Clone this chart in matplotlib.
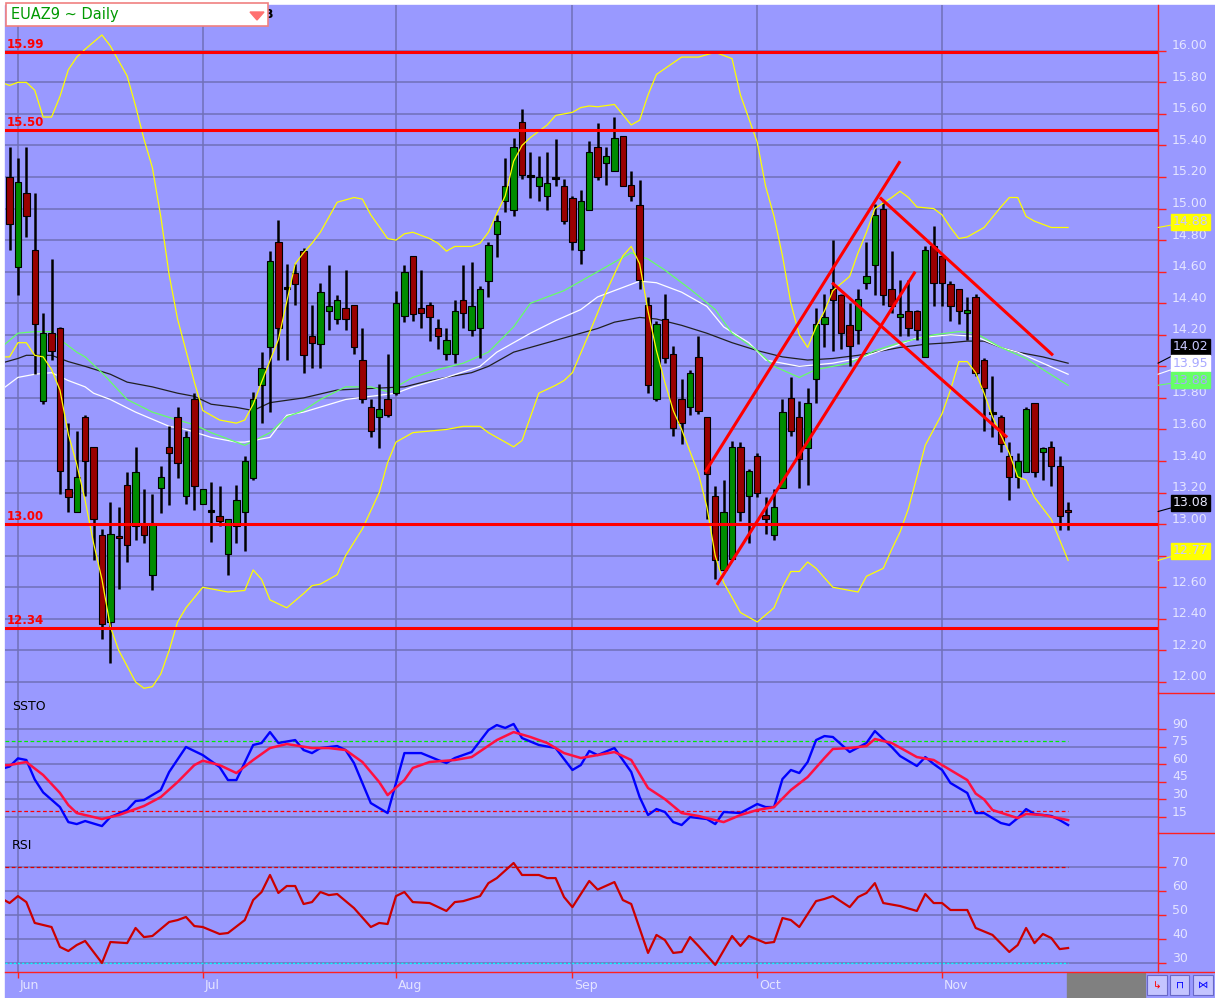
import numpy as np
import matplotlib
matplotlib.use('Agg')
import matplotlib.pyplot as plt
from matplotlib.patches import Rectangle, Polygon
from matplotlib.lines import Line2D
from matplotlib.transforms import blended_transform_factory as blend

W, H = 1215, 998
BG = '#9999ff'
GRID = '#7070b8'
LBL = '#e4e4ff'
AXRED = '#ff2020'

# daily candles, bar 0 = last trading day of May
opens = [15.20, 14.63, 15.10, 14.74, 13.78, 14.21, 14.24, 13.22, 13.08, 13.68,
         13.49, 12.93, 12.38, 12.92, 13.25, 12.99, 13.00, 12.68, 13.23, 13.49,
         13.68, 13.18, 13.79, 13.13, 13.08, 13.05, 12.81, 12.99, 13.08, 13.29,
         13.88, 14.12, 14.79, 14.49, 14.59, 14.73, 14.19, 14.14, 14.35, 14.30,
         14.37, 14.39, 14.04, 13.74, 13.68, 13.79, 13.83, 14.32, 14.70, 14.37,
         14.39, 14.24, 14.08, 14.08, 14.42, 14.23, 14.24, 14.54, 14.84, 15.05,
         14.99, 15.55, 15.20, 15.14, 15.08, 15.19, 15.14, 15.07, 14.74, 14.99,
         15.39, 15.29, 15.24, 15.46, 15.15, 15.02, 14.39, 13.79, 14.30, 14.08,
         13.79, 13.74, 14.06, 13.68, 13.18, 12.71, 12.78, 13.49, 13.18, 13.43,
         13.06, 12.93, 13.23, 13.80, 13.68, 13.48, 13.92, 14.27, 14.49, 14.45,
         14.26, 14.23, 14.53, 14.64, 15.00, 14.49, 14.31, 14.35, 14.35, 14.06,
         14.76, 14.70, 14.52, 14.49, 14.34, 14.44, 14.04, 13.70, 13.68, 13.43,
         13.30, 13.33, 13.77, 13.46, 13.49, 13.37, 13.09]
highs = [15.39, 15.32, 15.39, 15.10, 14.34, 14.68, 14.25, 13.64, 13.59, 13.69,
         13.49, 12.97, 13.14, 13.11, 13.33, 13.49, 13.22, 13.19, 13.37, 13.62,
         13.74, 13.59, 13.83, 13.22, 13.27, 13.24, 13.03, 13.25, 13.43, 13.84,
         14.09, 14.73, 14.93, 14.65, 14.65, 14.75, 14.39, 14.53, 14.64, 14.45,
         14.61, 14.39, 14.24, 13.79, 13.89, 14.08, 14.48, 14.64, 14.70, 14.61,
         14.41, 14.30, 14.24, 14.42, 14.64, 14.66, 14.51, 14.79, 14.96, 15.32,
         15.45, 15.63, 15.36, 15.33, 15.36, 15.44, 15.19, 15.08, 15.12, 15.43,
         15.54, 15.39, 15.58, 15.46, 15.24, 15.18, 14.44, 14.29, 14.46, 14.13,
         13.92, 13.98, 14.19, 13.68, 13.24, 13.28, 13.53, 13.52, 13.35, 13.45,
         13.17, 13.22, 13.79, 13.93, 13.78, 13.86, 14.37, 14.46, 14.80, 14.46,
         14.40, 14.49, 14.79, 15.03, 15.04, 14.73, 14.55, 14.55, 14.36, 14.76,
         14.89, 14.70, 14.54, 14.49, 14.44, 14.46, 14.05, 13.94, 13.69, 13.52,
         13.45, 13.74, 13.77, 13.49, 13.53, 13.43, 13.14]
lows = [14.74, 14.45, 14.82, 13.95, 13.76, 14.04, 13.19, 13.08, 13.08, 13.18,
        12.77, 12.27, 12.12, 12.59, 12.76, 12.90, 12.88, 12.58, 13.07, 13.12,
        13.29, 13.13, 13.09, 13.13, 12.89, 12.99, 12.68, 12.88, 12.83, 13.28,
        13.64, 13.71, 14.04, 14.04, 14.39, 13.96, 13.99, 13.99, 14.23, 14.27,
        14.23, 14.08, 13.77, 13.55, 13.48, 13.68, 13.82, 14.28, 14.29, 14.24,
        14.16, 14.11, 14.04, 14.02, 14.24, 14.19, 14.05, 14.44, 14.69, 14.98,
        14.95, 15.19, 15.07, 15.05, 14.99, 15.14, 14.90, 14.74, 14.65, 14.99,
        15.18, 15.15, 15.24, 15.14, 15.05, 14.49, 13.83, 13.78, 14.02, 13.56,
        13.51, 13.69, 13.70, 13.03, 12.65, 12.71, 12.78, 13.02, 12.88, 13.17,
        12.94, 12.90, 13.23, 13.56, 13.23, 13.25, 13.77, 14.12, 14.10, 14.11,
        14.00, 14.14, 14.49, 14.45, 14.39, 14.34, 14.19, 14.19, 14.17, 14.06,
        14.38, 14.38, 14.29, 14.27, 14.17, 13.94, 13.59, 13.55, 13.46, 13.15,
        13.23, 13.33, 13.30, 13.28, 13.24, 12.96, 12.96]
closes = [14.90, 15.17, 14.95, 14.27, 14.21, 14.10, 13.34, 13.17, 13.30, 13.40,
          13.03, 12.37, 12.94, 12.91, 12.87, 13.33, 12.93, 13.00, 13.30, 13.45,
          13.39, 13.55, 13.24, 13.22, 13.08, 13.02, 13.03, 13.15, 13.40, 13.79,
          13.99, 14.67, 14.24, 14.49, 14.52, 14.07, 14.15, 14.47, 14.38, 14.42,
          14.30, 14.12, 13.79, 13.59, 13.73, 13.69, 14.40, 14.60, 14.33, 14.34,
          14.31, 14.19, 14.17, 14.35, 14.34, 14.38, 14.49, 14.77, 14.92, 15.14,
          15.39, 15.21, 15.20, 15.20, 15.16, 15.19, 14.92, 14.79, 15.05, 15.36,
          15.20, 15.33, 15.45, 15.14, 15.08, 14.55, 13.88, 14.27, 14.05, 13.61,
          13.64, 13.96, 13.72, 13.32, 12.77, 13.08, 13.49, 13.08, 13.34, 13.20,
          13.03, 13.11, 13.71, 13.59, 13.41, 13.77, 14.27, 14.31, 14.42, 14.21,
          14.13, 14.43, 14.57, 14.96, 14.45, 14.38, 14.33, 14.24, 14.23, 14.74,
          14.53, 14.53, 14.38, 14.35, 14.36, 13.96, 13.86, 13.70, 13.51, 13.30,
          13.40, 13.73, 13.33, 13.48, 13.37, 13.05, 13.08]

months = ['Jun', 'Jul', 'Aug', 'Sep', 'Oct', 'Nov']
month_bars = [1, 23, 46, 67, 89, 111]

levels = [15.99, 15.50, 13.00, 12.34]

# hand drawn trend lines: (bar, price) pairs
trend_lines = [((82.8, 13.33), (106.0, 15.30)),
               ((84.2, 12.615), (107.8, 14.60)),
               ((103.6, 15.07), (124.2, 14.07)),
               ((97.9, 14.53), (118.75, 13.55))]

# bollinger bands
bb_up_x = [-1, 0, 1, 2, 3, 4, 5, 6, 7, 8, 9, 11, 12, 14, 15, 16, 17, 18, 19, 20,
           22, 23, 25, 27, 28, 29, 30, 32, 34, 35, 36, 37, 39, 41, 42, 43, 45, 46, 47, 48,
           50, 51, 52, 53, 55, 56, 57, 58, 59, 60, 61, 62, 64, 65, 67, 68, 69, 70, 72, 74,
           75, 76, 77, 80, 82, 84, 86, 87, 89, 90, 91, 92, 93, 94, 95, 96, 97, 98, 100, 101,
           102, 103, 105, 106, 107, 108, 110, 111, 112, 113, 114, 116, 118, 119, 120, 121,
           122, 124, 126]
bb_up = [15.80, 15.78, 15.80, 15.80, 15.75, 15.58, 15.58, 15.71, 15.88, 15.96, 16.01,
         16.10, 16.03, 15.84, 15.65, 15.44, 15.26, 14.95, 14.58, 14.30, 13.90, 13.72,
         13.66, 13.64, 13.66, 13.76, 13.90, 14.17, 14.65, 14.72, 14.78, 14.85, 15.04,
         15.07, 15.06, 14.96, 14.81, 14.80, 14.84, 14.85, 14.81, 14.78, 14.73, 14.76,
         14.76, 14.78, 14.85, 14.97, 15.08, 15.30, 15.40, 15.45, 15.53, 15.59, 15.61,
         15.64, 15.65, 15.645, 15.66, 15.53, 15.56, 15.72, 15.85, 15.96, 15.96, 15.99,
         15.95, 15.72, 15.42, 15.14, 14.95, 14.70, 14.40, 14.20, 14.12, 14.25, 14.35,
         14.48, 14.57, 14.72, 14.85, 15.00, 15.07, 15.11, 15.07, 15.01, 15.00, 14.96,
         14.88, 14.81, 14.82, 14.88, 15.01, 15.07, 15.07, 14.95, 14.92, 14.88, 14.88]
bb_lo_x = [-1, 0, 1, 2, 3, 4, 5, 6, 7, 8, 9, 10, 11, 12, 13, 15, 16, 17, 18, 19,
           20, 21, 23, 26, 28, 29, 30, 31, 33, 35, 36, 37, 39, 40, 42, 44, 45, 46, 48, 52,
           54, 56, 57, 60, 61, 63, 65, 66, 67, 69, 70, 71, 73, 74, 75, 76, 77, 78, 79, 80,
           82, 83, 84, 85, 87, 89, 91, 92, 93, 94, 95, 96, 98, 101, 102, 104, 105, 106, 107,
           109, 111, 112, 113, 114, 115, 116, 117, 119, 120, 121, 122, 124, 125, 126]
bb_lo = [14.06, 14.06, 14.15, 14.15, 14.07, 14.06, 13.98, 13.85, 13.57, 13.38, 13.15,
         12.88, 12.65, 12.35, 12.20, 12.00, 11.96, 11.97, 12.05, 12.20, 12.38, 12.47,
         12.60, 12.57, 12.58, 12.71, 12.65, 12.52, 12.47, 12.56, 12.61, 12.62, 12.68,
         12.80, 12.97, 13.20, 13.39, 13.52, 13.58, 13.60, 13.62, 13.62, 13.58, 13.49,
         13.53, 13.83, 13.88, 13.91, 13.96, 14.21, 14.34, 14.47, 14.70, 14.76, 14.65,
         14.35, 14.10, 13.90, 13.72, 13.60, 13.32, 13.11, 12.80, 12.63, 12.44, 12.38,
         12.47, 12.60, 12.70, 12.70, 12.76, 12.72, 12.60, 12.57, 12.67, 12.72, 12.84,
         12.95, 13.10, 13.50, 13.70, 13.85, 14.03, 14.03, 13.96, 13.83, 13.68, 13.45,
         13.30, 13.28, 13.17, 13.03, 12.90, 12.77]

# moving averages
ma_blk_x = [-1, 1, 2, 5, 7, 9, 12, 14, 17, 20, 22, 24, 27, 29, 31, 35, 39, 43, 47, 50,
            55, 57, 60, 64, 68, 70, 72, 75, 77, 80, 83, 86, 89, 92, 95, 98, 101, 104, 106,
            109, 112, 114, 116, 118, 120, 123, 126]
ma_blk = [14.02, 14.05, 14.07, 14.07, 14.03, 14.00, 13.95, 13.90, 13.87, 13.83, 13.81,
          13.76, 13.74, 13.72, 13.77, 13.80, 13.85, 13.86, 13.87, 13.91, 13.96, 14.00,
          14.09, 14.15, 14.21, 14.24, 14.28, 14.31, 14.30, 14.26, 14.21, 14.15, 14.10,
          14.06, 14.04, 14.05, 14.07, 14.10, 14.12, 14.14, 14.15, 14.16, 14.16, 14.12,
          14.09, 14.06, 14.02]
ma_grn_x = [-1, 1, 3, 5, 6, 8, 9, 11, 14, 17, 20, 22, 24, 27, 28, 31, 33, 35, 37, 40,
            43, 45, 48, 51, 54, 57, 60, 62, 66, 68, 70, 72, 74, 76, 78, 81, 84, 86, 89, 91,
            94, 96, 100, 103, 106, 110, 113, 115, 118, 121, 123, 126]
ma_grn = [14.12, 14.21, 14.22, 14.22, 14.17, 14.09, 14.06, 13.96, 13.79, 13.71, 13.66,
          13.63, 13.58, 13.52, 13.50, 13.58, 13.68, 13.72, 13.79, 13.87, 13.87, 13.84,
          13.93, 13.98, 14.02, 14.09, 14.25, 14.40, 14.48, 14.54, 14.60, 14.66, 14.72,
          14.68, 14.61, 14.49, 14.36, 14.21, 14.10, 14.00, 13.93, 13.98, 14.02, 14.10,
          14.15, 14.20, 14.22, 14.21, 14.12, 14.05, 13.98, 13.88]
ma_wht_x = [-1, 1, 3, 5, 7, 9, 10, 12, 15, 19, 21, 24, 27, 28, 31, 33, 35, 40, 43, 46,
            48, 52, 56, 58, 62, 65, 68, 70, 73, 75, 77, 80, 83, 85, 88, 90, 94, 98, 101,
            106, 108, 112, 115, 118, 120, 123, 126]
ma_wht = [13.85, 13.93, 13.95, 13.96, 13.91, 13.87, 13.83, 13.79, 13.71, 13.62, 13.60,
          13.55, 13.52, 13.52, 13.55, 13.69, 13.71, 13.79, 13.81, 13.83, 13.87, 13.93,
          14.00, 14.09, 14.21, 14.29, 14.36, 14.44, 14.50, 14.54, 14.53, 14.47, 14.38,
          14.25, 14.15, 14.04, 14.00, 14.02, 14.05, 14.14, 14.18, 14.20, 14.19, 14.12,
          14.09, 14.02, 13.95]

# slow stochastic
k_x = [-1, 0, 1, 2, 3, 4, 6, 7, 8, 9, 11, 12, 14, 15, 16, 18, 19, 21, 23, 25,
       26, 27, 29, 30, 31, 32, 34, 35, 36, 37, 39, 40, 41, 43, 45, 47, 49, 51, 52, 53,
       55, 57, 58, 59, 60, 61, 63, 65, 67, 68, 69, 70, 72, 74, 75, 76, 77, 78, 79, 80,
       81, 83, 84, 85, 87, 89, 90, 91, 92, 93, 94, 95, 96, 97, 98, 100, 102, 103, 105, 106,
       108, 109, 110, 111, 112, 114, 115, 116, 118, 119, 120, 121, 122, 124, 125, 126]
k_val = [56, 58, 65, 63.6, 47, 36, 23.5, 10.7, 9, 11.6, 7.3, 15, 21, 28.6, 29.5, 38,
         53.4, 74.7, 67.8, 57.6, 46.5, 46.5, 76.4, 78.1, 87.4, 78.1, 80.6, 72.1, 69.5,
         73.8, 75.5, 72.1, 61, 26.9, 18.4, 69.5, 69.5, 63.6, 61, 65.3, 70.4, 89.1, 93.4,
         90.9, 94.3, 82.3, 76.4, 73.8, 55.1, 59.3, 71.3, 67.8, 73.8, 53.4, 32, 16.7, 21.8,
         19.3, 10.7, 8.2, 15, 13.3, 9, 19.3, 18.4, 26.1, 23.5, 23.5, 47.4, 55.1, 52.5,
         61.9, 80.6, 84, 83.2, 70.4, 78.1, 88.3, 74.7, 67, 58.5, 66.1, 60.2, 55.1, 44,
         35.5, 18.4, 18.4, 9.9, 8.2, 14.1, 21.8, 17.6, 15.9, 12.4, 8.2]
d_x = [-1, 0, 2, 4, 6, 7, 8, 10, 11, 13, 16, 18, 20, 22, 23, 25, 27, 29, 31, 33,
       36, 38, 40, 42, 44, 45, 47, 48, 50, 53, 55, 58, 60, 62, 64, 66, 68, 70, 72, 74,
       76, 78, 80, 82, 83, 85, 87, 89, 91, 93, 95, 97, 98, 100, 102, 103, 105, 108, 110,
       111, 114, 115, 116, 117, 120, 121, 123, 126]
d_val = [59, 59.3, 61.9, 50.8, 35.5, 25.2, 18.4, 15, 13.3, 16.7, 24.4, 32, 44.8, 59.3,
         63, 59.3, 52.5, 63.6, 73.8, 77.2, 73.8, 73.8, 72.1, 61.9, 44.8, 33.7, 46.5, 56.8,
         61.9, 63.6, 66.1, 80.6, 87.4, 83.2, 78.1, 69.5, 65.3, 67.8, 70.4, 63.6, 39.7,
         30.3, 18.4, 15.9, 14.1, 10.7, 16.7, 21, 23.5, 38, 49.1, 65.3, 73, 73.8, 75.5,
         81.5, 78.1, 66.1, 63.6, 59.3, 46.5, 35, 30, 21, 14.1, 17.6, 16.7, 12.4]

# rsi
rsi_x = [-1, 0, 1, 2, 3, 5, 6, 7, 8, 9, 11, 12, 14, 15, 16, 17, 19, 20, 21, 22,
         23, 25, 26, 28, 29, 30, 31, 32, 33, 34, 35, 36, 37, 38, 39, 41, 43, 44, 45, 46,
         47, 48, 50, 52, 53, 54, 56, 57, 58, 60, 61, 63, 64, 65, 66, 67, 69, 70, 72, 73,
         74, 76, 77, 78, 79, 80, 81, 82, 84, 86, 87, 88, 90, 91, 92, 93, 94, 96, 97, 98,
         100, 101, 102, 103, 104, 106, 108, 109, 110, 111, 112, 114, 115, 117, 119, 120,
         121, 122, 123, 124, 125, 126]
rsi_val = [57, 55, 57.9, 55.4, 46.7, 45, 36.7, 35, 37.5, 39.2, 30, 38.75, 38.3, 44.6,
           40.8, 41.25, 47.1, 47.9, 49.2, 45.4, 45, 42.1, 42.5, 47.9, 56.25, 59.6, 66.7,
           59.2, 62.1, 62.1, 54.6, 55.4, 59.6, 58.3, 58.75, 52.9, 45, 46.7, 46.25, 57.9,
           59.6, 55.4, 55, 51.7, 55.4, 55.8, 57.9, 63.3, 65.4, 71.7, 66.7, 66.7, 65.4,
           65.4, 57.5, 53.3, 64.2, 60.6, 63.75, 56.25, 54.6, 34.2, 41.7, 39.6, 34.2, 34.6,
           40.8, 37.1, 29.2, 41.25, 37.1, 41.25, 38.3, 38.75, 48.75, 47.9, 45, 55.8, 56.7,
           57.9, 53.3, 57.5, 59.2, 63.3, 55, 53.75, 51.7, 58.75, 55, 55, 52.1, 52.1, 44.6,
           41.7, 34.6, 37.5, 44.6, 38.3, 42.1, 40.4, 35.8, 36.25]

main_ticks = np.round(np.arange(12.0, 16.01, 0.2), 2)
ssto_ticks = [15, 30, 45, 60, 75, 90]
rsi_ticks = [30, 40, 50, 60, 70]


def fx(px):
    return px / W


def fy(py):
    return 1 - py / H


fig = plt.figure(figsize=(W / 100, H / 100), dpi=100)
fig.patch.set_facecolor('white')
fig.add_artist(Rectangle((fx(5), 0), 1 - fx(5), fy(5), transform=fig.transFigure,
                         color=BG, zorder=-10))


def make_ax(top, bottom):
    a = fig.add_axes([fx(5), fy(bottom), fx(1158) - fx(5), (bottom - top) / H])
    a.set_facecolor(BG)
    for s in ['top', 'left', 'bottom']:
        a.spines[s].set_visible(False)
    a.spines['right'].set_color(AXRED)
    a.spines['right'].set_linewidth(1.0)
    a.set_xlim(-0.54, 136.7)
    a.set_xticks(month_bars)
    a.yaxis.tick_right()
    a.tick_params(axis='y', length=5.5, width=1.0, color=AXRED, labelright=False)
    a.tick_params(axis='x', length=0, labelbottom=False)
    a.grid(True, color=GRID, lw=1.1)
    a.set_axisbelow(True)
    return a


ax = make_ax(5, 693)
ax2 = make_ax(693, 833)
ax3 = make_ax(833, 972)

ax.set_ylim(11.93, 16.29)
ax.set_yticks(main_ticks)
ax2.set_ylim(1.4, 120.7)
ax2.set_yticks(ssto_ticks)
ax3.set_ylim(26.25, 84.2)
ax3.set_yticks(rsi_ticks)
ax3.tick_params(axis='x', length=4.5, width=1.0, color=AXRED, direction='out')


def right_label(a, v, txt):
    a.annotate(txt, xy=(1, v), xycoords=blend(a.transAxes, a.transData),
               xytext=(10, 3.6), textcoords='offset points', ha='left', va='center',
               fontsize=9, color=LBL, annotation_clip=False, zorder=5)


for v in main_ticks:
    right_label(ax, v, f'{v:.2f}')
for v in ssto_ticks:
    right_label(ax2, v, str(v))
for v in rsi_ticks:
    right_label(ax3, v, str(v))

# moving averages
ax.plot(ma_blk_x, ma_blk, color='#202020', lw=0.9, zorder=2)
ax.plot(ma_wht_x, ma_wht, color='white', lw=0.9, zorder=2)
ax.plot(ma_grn_x, ma_grn, color='#66ff66', lw=0.9, zorder=2)

# candles
xs = np.arange(len(closes))
o = np.array(opens)
c = np.array(closes)
cols = np.where(c > o, '#008c00', np.where(c < o, '#990000', 'black'))
ax.vlines(xs, lows, highs, color='black', lw=1.8, zorder=3)
ax.bar(xs, np.maximum(np.abs(c - o), 0.012), bottom=np.minimum(o, c), width=0.76,
       color=cols, edgecolor='black', linewidth=0.8, zorder=4)

# bollinger bands
ax.plot(bb_up_x, bb_up, color='#ffff00', lw=0.9, zorder=5)
ax.plot(bb_lo_x, bb_lo, color='#ffff00', lw=0.9, zorder=5)

# support / resistance
for lv in levels:
    ax.axhline(lv, color='#ff0000', lw=2.2, zorder=6)
    ax.annotate(f'{lv:.2f}', xy=(0, lv), xycoords=blend(ax.transAxes, ax.transData),
                xytext=(1.5, 0.8), textcoords='offset points', ha='left', va='bottom',
                fontsize=8.5, fontweight='bold', color='#ff0000', zorder=6)

for (x0, y0), (x1, y1) in trend_lines:
    ax.plot([x0, x1], [y0, y1], color='#ff0000', lw=2.2, zorder=7,
            solid_capstyle='butt')

# value tags on the price scale
tags = [(bb_up[-1], '#ffff00', '#c8c8ff', 4.3),
        (ma_blk[-1], 'black', '#c8c8ff', 12.0),
        (ma_wht[-1], 'white', '#a8a8ff', 8.0),
        (ma_grn[-1], '#66ff66', '#a8a8ff', 3.6),
        (closes[-1], 'black', '#e8e8ff', 6.5),
        (bb_lo[-1], '#ffff00', '#c8c8ff', 7.0)]
for v, fc, tc, dy in tags:
    ax.annotate(f'{v:.2f}', xy=(1, v), xycoords=blend(ax.transAxes, ax.transData),
                xytext=(10.5, dy), textcoords='offset points', ha='left', va='center',
                fontsize=9, color=tc, annotation_clip=False, zorder=10,
                bbox=dict(boxstyle='square,pad=0.12', fc=fc, ec=fc),
                arrowprops=dict(arrowstyle='-', color=fc, lw=0.8, shrinkA=0, shrinkB=0))

# stochastic panel
last = len(closes) - 1
ax2.hlines(80, -0.54, last, colors='#00ee00', linestyles=(0, (3, 2)), lw=0.9, zorder=2)
ax2.hlines(20, -0.54, last, colors='#ff0000', linestyles=(0, (3, 2)), lw=0.9, zorder=2)
ax2.plot(k_x, k_val, color='#0000ff', lw=1.7, zorder=3)
ax2.plot(d_x, d_val, color='#ff1040', lw=1.8, zorder=4)
ax2.text(0.006, 0.905, 'SSTO', transform=ax2.transAxes, fontsize=9, color='black',
         va='center', ha='left')

# rsi panel
ax3.hlines(70, -0.54, last, colors='#dd0000', linestyles=(0, (3, 2)), lw=0.9, zorder=2)
ax3.hlines(30, -0.54, last, colors='#00ffff', linestyles=(0, (1.5, 1.5)), lw=1.0, zorder=2)
ax3.plot(rsi_x, rsi_val, color='#cc0000', lw=1.6, zorder=3)
ax3.text(0.006, 0.912, 'RSI', transform=ax3.transAxes, fontsize=9, color='black',
         va='center', ha='left')

for m, b in zip(months, month_bars):
    ax3.annotate(m, xy=(b, 0), xycoords=blend(ax3.transData, ax3.transAxes),
                 xytext=(1.5, -9.5), textcoords='offset points', ha='left', va='center',
                 fontsize=9, color=LBL, annotation_clip=False)

# frame lines outside the plot areas
for py in (693, 833):
    fig.add_artist(Line2D([fx(1158), 1], [fy(py), fy(py)], color=AXRED, lw=1.0,
                          transform=fig.transFigure))
fig.add_artist(Line2D([fx(5), 1], [fy(972), fy(972)], color=AXRED, lw=1.0,
                      transform=fig.transFigure))

# bottom right scroll area and buttons
fig.add_artist(Rectangle((fx(1067), fy(998)), fx(1145) - fx(1067), (998 - 973) / H,
                         transform=fig.transFigure, color='#808080', zorder=1))
for (bx0, bx1), sym, col in zip([(1147, 1167), (1170, 1189), (1193, 1213)],
                                ['\u21b3', '\u2293', '\u22c8'],
                                ['#ff0000', '#0000ff', '#0000ff']):
    fig.add_artist(Rectangle((fx(bx0), fy(995)), fx(bx1) - fx(bx0), 20 / H,
                             transform=fig.transFigure, fc='#c4c4ff', ec='#6868c8',
                             lw=0.8, zorder=2))
    fig.text(fx((bx0 + bx1) / 2), fy(985), sym, color=col, fontsize=7.5,
             ha='center', va='center', zorder=3)

# symbol box
fig.text(fx(264), fy(15), 'B', fontsize=9, fontweight='bold', color='black',
         ha='left', va='center', zorder=3)
fig.add_artist(Rectangle((fx(6), fy(26)), fx(268) - fx(6), 23 / H,
                         transform=fig.transFigure, fc='white', ec='#f08080',
                         lw=1.2, zorder=4))
fig.text(fx(11), fy(15), 'EUAZ9 ~ Daily', fontsize=10.5, color='#009900',
         ha='left', va='center', zorder=5)
fig.add_artist(Polygon([(fx(250), fy(12)), (fx(264), fy(12)), (fx(257), fy(20))],
                       closed=True, transform=fig.transFigure, color='#ff7070', zorder=5))

fig.savefig('out.png', dpi=100, facecolor=fig.get_facecolor())
